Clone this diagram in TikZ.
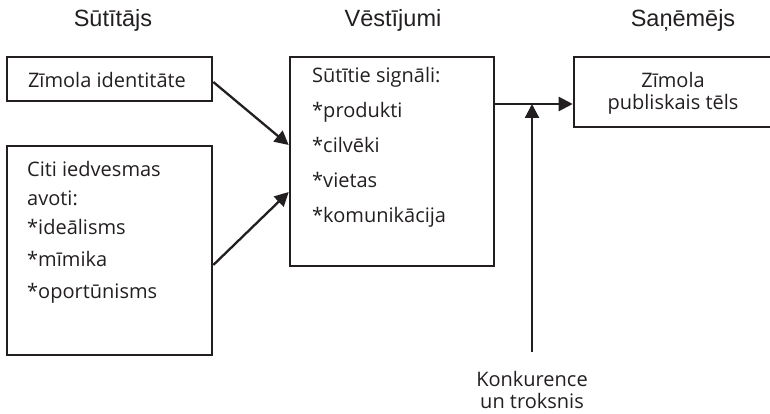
\documentclass[tikz,border=0pt]{standalone}
\usepackage{fontspec}
\setmainfont{Open Sans}
\newfontfamily\titlefont{Liberation Sans}
\usetikzlibrary{arrows.meta,calc}
\definecolor{ink}{RGB}{35,31,32}
\begin{document}
\begin{tikzpicture}[x=1pt,y=-1pt, color=ink,
  box/.style={draw=ink, line width=2.6pt, inner sep=0pt},
  conn/.style={draw=ink, line width=2.3pt, -{Triangle[length=14pt,width=14pt]}},
  body/.style={text=ink, font=\fontsize{20}{22}\selectfont, inner sep=0pt},
  title/.style={text=ink, font=\titlefont\fontsize{23.5}{26}\selectfont, inner sep=0pt, anchor=base}]
\useasboundingbox (0,0) rectangle (770,414);
\clip (0,0) rectangle (770,414);
% titles
\node[title] (t1) at (113,27) {Sūtītājs};
\node[title] (t2) at (393,27) {Vēstījumi};
\node[title] (t3) at (683,27) {Saņēmējs};
% boxes
\node[box, minimum width=205pt, minimum height=44pt] (ident) at (109.5,79) {};
\node[body, anchor=base] (identtext) at (107,88) {Zīmola identitāte};
\node[box, minimum width=205pt, minimum height=209pt] (citi) at (109.5,250.5) {};
\node[body, anchor=north west, align=left, font=\fontsize{20}{29}\selectfont] (cititext) at (27,161)
  {Citi iedvesmas\\avoti:\\*ideālisms\\[3pt]*mīmika\\[3pt]*oportūnisms};
\node[box, minimum width=204pt, minimum height=209pt] (msg) at (392,161.5) {};
\node[body, anchor=north west, align=left, font=\fontsize{20}{35}\selectfont] (msgtext) at (312,67)
  {Sūtītie signāli:\\*produkti\\*cilvēki\\*vietas\\*komunikācija};
\node[box, minimum width=198pt, minimum height=70pt] (recv) at (673,92) {};
\node[body, anchor=north, align=center] (recvtext) at (673,72) {Zīmola\\publiskais tēls};
\node[body, anchor=north, align=center] (noise) at (532,371) {Konkurence\\un troksnis};
\coordinate (j) at (532,104);
\coordinate (nstart) at (532,352);
% connectors
\draw[conn] ([yshift=-3pt]ident.east) -- ([yshift=16.5pt]msg.west);
\draw[conn] ([yshift=-14.5pt]citi.east) -- ([yshift=-30.5pt]msg.west);
\draw[conn] ([yshift=57.5pt]msg.east) -- ([yshift=-12pt]recv.west);
\draw[conn] (nstart) -- (j);
\end{tikzpicture}
\end{document}
